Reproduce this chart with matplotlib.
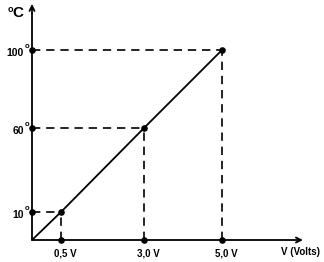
import numpy as np
import matplotlib
matplotlib.use("Agg")
import matplotlib.pyplot as plt

# data
volts = [0.5, 3.0, 5.0]
temps = [10, 60, 100]
volt_labels = ["0,5 V", "3,0 V", "5,0 V"]
temp_labels = ["10", "60", "100"]

# the drawing is a sketch, not to scale: piecewise scale anchors (pixels)
X_ANCHOR = [0.0, 0.5, 3.0, 5.0]
X_PIX = [32, 61, 144, 222]
Y_ANCHOR = [0.0, 10.0, 60.0, 100.0]
Y_PIX = [22, 50, 134, 212]

W, H = 324, 262

plt.rcParams["font.family"] = ["Liberation Sans", "DejaVu Sans"]
plt.rcParams["font.weight"] = "bold"


def piecewise(xs, ys):
    xs = np.asarray(xs, float)
    ys = np.asarray(ys, float)

    def f(v):
        v = np.asarray(v, float)
        out = np.interp(v, xs, ys)
        lo = v < xs[0]
        hi = v > xs[-1]
        out = np.where(lo, ys[0] + (v - xs[0]) * (ys[1] - ys[0]) / (xs[1] - xs[0]), out)
        out = np.where(hi, ys[-1] + (v - xs[-1]) * (ys[-1] - ys[-2]) / (xs[-1] - xs[-2]), out)
        return out
    return f


fx, fx_inv = piecewise(X_ANCHOR, X_PIX), piecewise(X_PIX, X_ANCHOR)
fy, fy_inv = piecewise(Y_ANCHOR, Y_PIX), piecewise(Y_PIX, Y_ANCHOR)

fig = plt.figure(figsize=(W / 100, H / 100), dpi=100)
ax = fig.add_axes([0, 0, 1, 1])
ax.set_xscale("function", functions=(fx, fx_inv))
ax.set_yscale("function", functions=(fy, fy_inv))
ax.set_xlim(float(fx_inv(0)), float(fx_inv(W)))
ax.set_ylim(float(fy_inv(0)), float(fy_inv(H)))
ax.axis("off")

# axes with arrows
arrow = dict(arrowstyle="->", color="black", lw=1.3, shrinkA=0, shrinkB=0,
             mutation_scale=9)
ax.annotate("", xy=(0, 0.985), xycoords=("data", "axes fraction"),
            xytext=(0, 0), textcoords="data", arrowprops=arrow)
ax.annotate("", xy=(0.935, 0), xycoords=("axes fraction", "data"),
            xytext=(0, 0), textcoords="data", arrowprops=arrow)

# main line
ax.plot([0] + volts, [0] + temps, color="black", lw=1.3, solid_capstyle="butt")

# dashed guides and dots
for v, t in zip(volts, temps):
    ax.plot([0, v], [t, t], color="black", lw=1.2, dashes=(5, 3.5))
    ax.plot([v, v], [0, t], color="black", lw=1.2, dashes=(5, 3.5))
ax.scatter(volts, [0] * len(volts), s=14, color="black", zorder=3)
ax.scatter([0] * len(temps), temps, s=14, color="black", zorder=3)
ax.scatter(volts, temps, s=14, color="black", zorder=3)

# labels
for v, lab in zip(volts, volt_labels):
    ax.annotate(lab, xy=(v, 0), xytext=(3, -10), textcoords="offset points",
                ha="center", va="center", fontsize=7, fontweight="bold")
for t, lab in zip(temps, temp_labels):
    ax.annotate(lab, xy=(0, t), xytext=(-5.8, -1.8), textcoords="offset points",
                ha="right", va="center", fontsize=7.5, fontweight="bold")
    ax.annotate("o", xy=(0, t), xytext=(-5.3, 2.8), textcoords="offset points",
                ha="left", va="center", fontsize=5.5, fontweight="bold")

ax.text(8 / W, 1 - 9.5 / H, "o", transform=ax.transAxes, fontsize=6.5,
        fontweight="bold", ha="left", va="center")
ax.text(12 / W, 1 - 13 / H, "C", transform=ax.transAxes, fontsize=11,
        fontweight="bold", ha="left", va="center")
ax.text(320 / W, 1 - 252 / H, "V (Volts)", transform=ax.transAxes, fontsize=7,
        fontweight="bold", ha="right", va="center")

fig.savefig("out.png", dpi=100)
